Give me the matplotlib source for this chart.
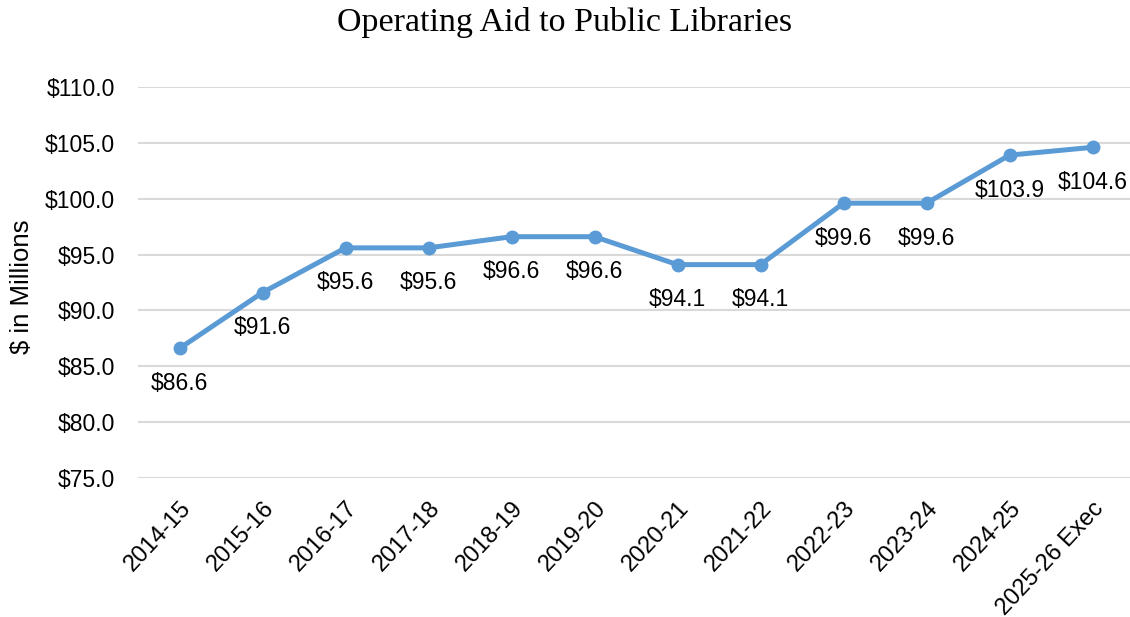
import matplotlib.pyplot as plt

years = ["2014-15", "2015-16", "2016-17", "2017-18", "2018-19", "2019-20",
         "2020-21", "2021-22", "2022-23", "2023-24", "2024-25", "2025-26 Exec"]
aid = [86.6, 91.6, 95.6, 95.6, 96.6, 96.6, 94.1, 94.1, 99.6, 99.6, 103.9, 104.6]
yticks = [75, 80, 85, 90, 95, 100, 105, 110]

plt.rcParams['font.family'] = ['Liberation Sans', 'DejaVu Sans']

fig = plt.figure(figsize=(11.3, 6.17), dpi=100)
ax = fig.add_axes([138 / 1130, 139 / 617, (1134 - 138) / 1130, 391 / 617])

x = list(range(len(years)))
ax.plot(x, aid, color='#5B9BD5', linewidth=3.6, marker='o', markersize=9,
        solid_capstyle='round', zorder=3)

for xi, v in zip(x, aid):
    ax.annotate("$" + format(v, ".1f"), (xi, v), xytext=(0, -35),
                textcoords='offset pixels', ha='center', va='center',
                fontsize=16.5, color='black')

ax.set_xlim(-0.5, len(years) - 0.5)
ax.set_ylim(75, 110)
ax.set_yticks(yticks)
ax.set_yticklabels(["$" + format(t, ".1f") for t in yticks], fontsize=16.5)
ax.set_xticks(x)
ax.set_xticklabels(years, rotation=47, ha='right', rotation_mode='anchor',
                   fontsize=17)
ax.tick_params(axis='both', length=0)
ax.tick_params(axis='y', pad=16.5)
ax.tick_params(axis='x', pad=14)
ax.grid(axis='y', color='#D9D9D9', linewidth=1.5)
ax.set_axisbelow(True)
for s in ax.spines.values():
    s.set_visible(False)

ax.set_ylabel("$ in Millions", fontsize=18.5)
ax.yaxis.set_label_coords(-104 / 996, 0.49)

fig.text(0.5, 1 - 22 / 617, "Operating Aid to Public Libraries",
         family=['Liberation Serif'], fontsize=24.5, ha='center', va='center')

fig.savefig('out.png', dpi=100)
